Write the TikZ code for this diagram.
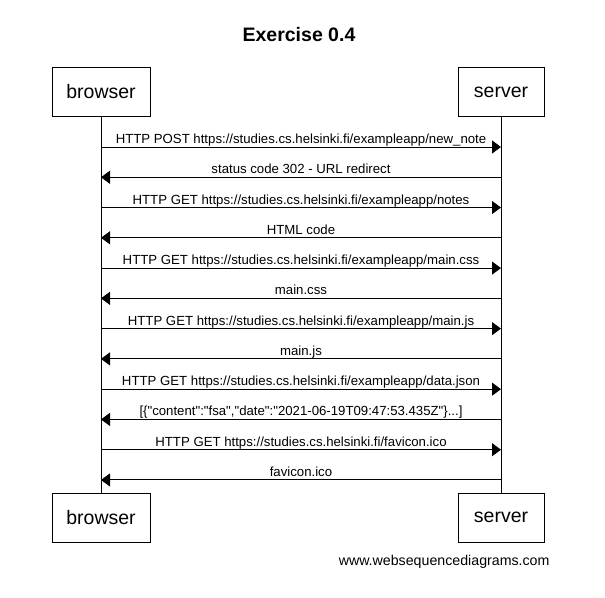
\documentclass[tikz,border=0pt]{standalone}
\usepackage{fontspec}
\newfontfamily\wsdfont{Liberation Sans}
\usetikzlibrary{arrows.meta}

\begin{document}
\begin{tikzpicture}[x=1pt,y=-1pt,line width=1pt,
   actor/.style={draw,rectangle,minimum height=49pt,inner sep=0pt,font=\wsdfont\fontsize{19.5}{22}\selectfont},
   msg/.style={-{Triangle[length=9pt,width=13pt]}},
   msglabel/.style={anchor=base,yshift=3.5pt,inner sep=0pt,font=\wsdfont\fontsize{13.2}{15}\selectfont}]
\useasboundingbox (0,0) rectangle (605,597);
\node[font=\wsdfont\bfseries\fontsize{19.5}{22}\selectfont](title) at (299,35) {Exercise 0.4};
\node[actor,minimum width=98pt](browsertop) at (101,92) {browser};
\node[actor,minimum width=86pt](servertop) at (501,92) {server};
\node[actor,minimum width=98pt](browserbot) at (101,517.5) {browser};
\node[actor,minimum width=86pt](serverbot) at (501,517.5) {server};
\draw (browsertop) -- (browserbot);
\draw (servertop) -- (serverbot);
\foreach \i [evaluate=\i as \y using 147+30.27*\i] in {0,...,11} {
   \coordinate (b\i) at (browsertop.south |- 0,\y);
   \coordinate (s\i) at (servertop.south |- 0,\y);
}
\foreach \i/\from/\to/\txt in %
{0/b/s/{HTTP POST https://studies.cs.helsinki.fi/exampleapp/new\_note},
 1/s/b/{status code 302 - URL redirect},
 2/b/s/{HTTP GET https://studies.cs.helsinki.fi/exampleapp/notes},
 3/s/b/{HTML code},
 4/b/s/{HTTP GET https://studies.cs.helsinki.fi/exampleapp/main.css},
 5/s/b/{main.css},
 6/b/s/{HTTP GET https://studies.cs.helsinki.fi/exampleapp/main.js},
 7/s/b/{main.js},
 8/b/s/{HTTP GET https://studies.cs.helsinki.fi/exampleapp/data.json},
 9/s/b/{[\{"content":"fsa","date":"2021-06-19T09:47:53.435Z"\}...]},
 10/b/s/{HTTP GET https://studies.cs.helsinki.fi/favicon.ico},
 11/s/b/{favicon.ico}} {
   \draw[msg] (\from\i) -- node[msglabel]{\txt} (\to\i);
}
\node[anchor=base east,inner sep=0pt,font=\wsdfont\fontsize{14.2}{16}\selectfont](wsd) at (550,565) {www.websequencediagrams.com};
\end{tikzpicture}
\end{document}
